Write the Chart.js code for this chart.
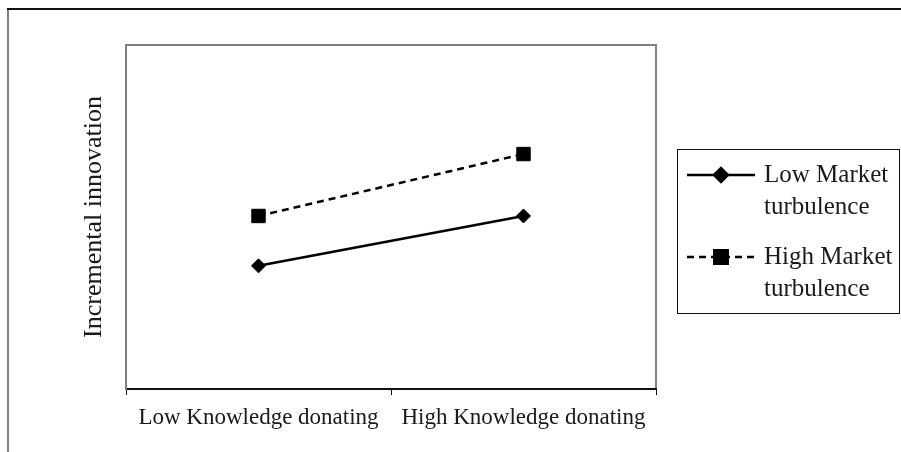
<!DOCTYPE html>
<html>
<head>
<meta charset="utf-8">
<script src="https://cdn.jsdelivr.net/npm/chart.js@4/dist/chart.umd.min.js"></script>
<style>
  html, body { margin: 0; padding: 0; background: #ffffff; }
  #wrap { position: relative; width: 901px; height: 452px; }
</style>
</head>
<body>
<div id="wrap"><canvas id="chart" width="901" height="452"></canvas></div>
<script>
// Interaction plot: incremental innovation by knowledge donating and market turbulence
const categories = ['Low Knowledge donating', 'High Knowledge donating'];
const lowTurbulence = [3.58, 5.03];
const highTurbulence = [5.03, 6.83];
const seriesNames = [['Low Market', 'turbulence'], ['High Market', 'turbulence']];
const yTitle = 'Incremental innovation';

const SERIF = '"Liberation Serif", "Times New Roman", serif';
const INK = '#1a1a1a';

// Outer frame and the plot-area box (top / right edges)
const framePlugin = {
  id: 'frame',
  beforeDraw(chart) {
    const ctx = chart.ctx;
    ctx.save();
    ctx.fillStyle = '#ffffff';
    ctx.fillRect(0, 0, chart.width, chart.height);
    ctx.lineWidth = 2;
    ctx.strokeStyle = '#808080';
    ctx.beginPath();
    ctx.moveTo(8, 9);
    ctx.lineTo(8, chart.height);
    ctx.stroke();
    ctx.strokeStyle = '#111111';
    ctx.beginPath();
    ctx.moveTo(7, 9);
    ctx.lineTo(chart.width, 9);
    ctx.stroke();
    const a = chart.chartArea;
    ctx.strokeStyle = '#808080';
    ctx.beginPath();
    ctx.moveTo(a.left, a.top);
    ctx.lineTo(a.right, a.top);
    ctx.lineTo(a.right, a.bottom);
    ctx.stroke();
    ctx.restore();
  }
};

// Boxed legend on the right, with two-line entries
const boxLegend = {
  id: 'boxLegend',
  afterDraw(chart) {
    const ctx = chart.ctx;
    const box = { x: 677, y: 149, w: 223, h: 165 };
    ctx.save();
    ctx.strokeStyle = '#111111';
    ctx.lineWidth = 1;
    ctx.strokeRect(box.x + 0.5, box.y + 0.5, box.w - 1, box.h - 1);
    const rowY = [175, 257];
    chart.data.datasets.forEach((ds, i) => {
      const y = rowY[i];
      ctx.strokeStyle = ds.borderColor;
      ctx.lineWidth = ds.borderWidth;
      ctx.setLineDash(ds.borderDash || []);
      ctx.beginPath();
      ctx.moveTo(687, y);
      ctx.lineTo(755, y);
      ctx.stroke();
      ctx.setLineDash([]);
      Chart.helpers.drawPoint(ctx, {
        pointStyle: ds.pointStyle,
        radius: ds.pointRadius,
        borderWidth: 1,
        rotation: 0
      }, 721, y);
      ctx.fillStyle = ds.pointBackgroundColor;
      ctx.fill();
      ctx.fillStyle = INK;
      ctx.font = '25px ' + SERIF;
      ctx.textBaseline = 'middle';
      ctx.textAlign = 'left';
      const lines = Array.isArray(ds.label) ? ds.label : [ds.label];
      lines.forEach((t, k) => ctx.fillText(t, 764, y + k * 32));
    });
    ctx.restore();
  }
};

new Chart(document.getElementById('chart'), {
  type: 'line',
  data: {
    labels: categories,
    datasets: [
      {
        label: seriesNames[0],
        data: lowTurbulence,
        borderColor: '#000000',
        borderWidth: 2.5,
        pointStyle: 'rectRot',
        pointRadius: 7,
        pointBackgroundColor: '#000000',
        pointBorderColor: '#000000',
        pointBorderWidth: 1,
        tension: 0
      },
      {
        label: seriesNames[1],
        data: highTurbulence,
        borderColor: '#000000',
        borderWidth: 2.5,
        borderDash: [7, 5],
        pointStyle: 'rect',
        pointRadius: 9.5,
        pointBackgroundColor: '#000000',
        pointBorderColor: '#000000',
        pointBorderWidth: 1,
        tension: 0
      }
    ]
  },
  options: {
    responsive: false,
    animation: false,
    events: [],
    layout: { padding: { left: 0, top: 45, right: 245, bottom: 0 } },
    plugins: {
      legend: { display: false },
      tooltip: { enabled: false }
    },
    scales: {
      x: {
        type: 'category',
        offset: true,
        grid: {
          display: true,
          offset: true,
          drawOnChartArea: false,
          drawTicks: true,
          tickLength: 6,
          color: '#111111',
          lineWidth: 1
        },
        border: { display: true, color: '#111111', width: 2 },
        ticks: {
          color: INK,
          font: { family: SERIF, size: 23 },
          padding: 9,
          maxRotation: 0,
          autoSkip: false
        },
        afterFit(scale) { scale.height = 63; }
      },
      y: {
        min: 0,
        max: 10,
        grid: { display: false, drawTicks: false },
        border: { display: true, color: '#808080', width: 2 },
        ticks: { display: false },
        title: {
          display: true,
          text: yTitle,
          color: INK,
          font: { family: SERIF, size: 26 },
          padding: { top: 79, bottom: 0 }
        },
        afterFit(scale) { scale.width = 126; }
      }
    }
  },
  plugins: [framePlugin, boxLegend]
});
</script>
</body>
</html>
